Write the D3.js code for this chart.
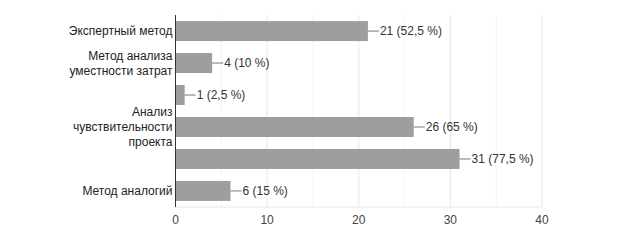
<!DOCTYPE html>
<html>
<head>
	<meta charset="utf-8">
	<script src="https://cdn.jsdelivr.net/npm/d3@7"></script>
</head>
<style type="text/css">
	body { margin: 0; background: #fff; }
	text { font-family: "Liberation Sans", Arial, sans-serif; }
</style>
<body>
</body>
</html>
<script type="text/javascript">
	var width = 619;
	var height = 249;

	// categories (lines of each label), values and their percent labels
	var categories = [
		["Экспертный метод"],
		["Метод анализа", "уместности затрат"],
		[],
		["Анализ", "чувствительности", "проекта"],
		[],
		["Метод аналогий"]
	];
	var values = [21, 4, 1, 26, 31, 6];
	var percents = ["52,5 %", "10 %", "2,5 %", "65 %", "77,5 %", "15 %"];
	var ticks = [0, 10, 20, 30, 40];

	var margin = {top: 15, left: 175.5, right: 77, bottom: 42};
	var svg = d3.select("body").append("svg").attr("width", width).attr("height", height);

	var x = d3.scaleLinear().domain([0, 40]).range([margin.left, width - margin.right]);
	var y = d3.scaleBand().domain(d3.range(values.length)).range([margin.top, height - margin.bottom])
		.paddingInner(0.375).paddingOuter(0.19);

	// minor gridlines
	svg.append("g").selectAll("line").data(d3.range(5, 40, 10)).enter().append("line")
		.attr("x1", function(d){ return x(d); }).attr("x2", function(d){ return x(d); })
		.attr("y1", margin.top).attr("y2", height - margin.bottom)
		.attr("stroke", "#f4f4f4");
	// major gridlines
	svg.append("g").selectAll("line").data(ticks.slice(1)).enter().append("line")
		.attr("x1", function(d){ return x(d); }).attr("x2", function(d){ return x(d); })
		.attr("y1", margin.top).attr("y2", height - margin.bottom)
		.attr("stroke", "#e6e6e6");
	svg.append("line")
		.attr("x1", x(0)).attr("x2", x(40))
		.attr("y1", height - margin.bottom).attr("y2", height - margin.bottom)
		.attr("stroke", "#e6e6e6");

	var bar = svg.selectAll(".bar").data(values).enter().append("g");
	bar.append("rect")
		.attr("x", x(0))
		.attr("y", function(d, i){ return y(i); })
		.attr("width", function(d){ return x(d) - x(0); })
		.attr("height", y.bandwidth())
		.attr("fill", "#9e9e9e");
	bar.append("line")
		.attr("x1", function(d){ return x(d); })
		.attr("x2", function(d){ return x(d) + 11; })
		.attr("y1", function(d, i){ return y(i) + y.bandwidth() / 2; })
		.attr("y2", function(d, i){ return y(i) + y.bandwidth() / 2; })
		.attr("stroke", "#777");
	bar.append("text")
		.attr("x", function(d){ return x(d) + 12; })
		.attr("y", function(d, i){ return y(i) + y.bandwidth() / 2; })
		.attr("dy", "0.35em")
		.attr("font-size", 12)
		.attr("fill", "#333")
		.text(function(d, i){ return d + " (" + percents[i] + ")"; });

	// category labels
	var lineH = 15;
	svg.append("g").selectAll("text").data(categories).enter().append("text")
		.attr("text-anchor", "end")
		.attr("font-size", 12)
		.attr("fill", "#222")
		.each(function(lines, i){
			var cy = y(i) + y.bandwidth() / 2 - (lines.length - 1) * lineH / 2;
			d3.select(this).selectAll("tspan").data(lines).enter().append("tspan")
				.attr("x", margin.left - 3)
				.attr("y", function(d, j){ return cy + j * lineH; })
				.attr("dy", "0.35em")
				.text(function(d){ return d; });
		});

	// tick labels
	svg.append("g").selectAll("text").data(ticks).enter().append("text")
		.attr("x", function(d){ return x(d); })
		.attr("y", 220)
		.attr("dy", "0.35em")
		.attr("text-anchor", "middle")
		.attr("font-size", 12)
		.attr("fill", "#444")
		.text(function(d){ return d; });

	// vertical axis line
	svg.append("line")
		.attr("x1", x(0)).attr("x2", x(0))
		.attr("y1", margin.top).attr("y2", height - margin.bottom)
		.attr("stroke", "#333");
</script>
